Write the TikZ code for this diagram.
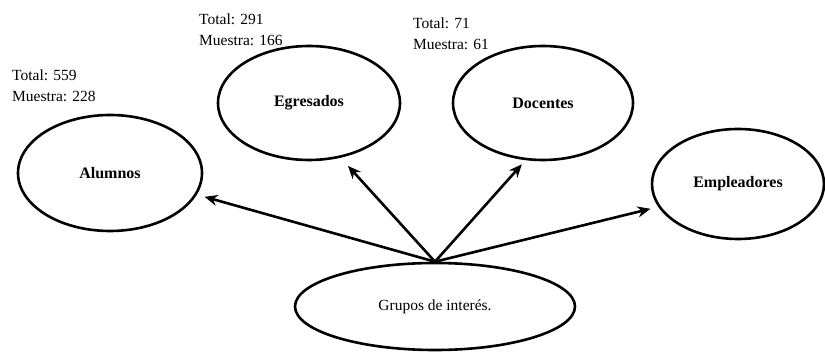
\documentclass[tikz,border=0pt]{standalone}
\usepackage{fontspec}
\setmainfont{Liberation Serif}
\usetikzlibrary{shapes.geometric,arrows.meta}
\begin{document}
\begin{tikzpicture}[x=1pt,y=-1pt,
  grp/.style={ellipse,draw,line width=2.6pt,inner sep=0pt,font=\fontsize{16}{19}\selectfont\bfseries},
  lbl/.style={anchor=base west,inner sep=0pt,font=\fontsize{15.5}{19}\selectfont},
  arr/.style={line width=2.6pt,-{Stealth[length=13pt,width=11pt]}}]
\useasboundingbox[fill=white] (0,0) rectangle (825,352);
\node[grp,minimum width=184pt,minimum height=116pt] (a) at (110,173) {Alumnos};
\node[grp,minimum width=182pt,minimum height=114pt] (e) at (309,103) {Egresados};
\node[grp,minimum width=180pt,minimum height=114pt] (d) at (543,103) {Docentes};
\node[grp,minimum width=172pt,minimum height=110pt] (m) at (738,184) {Empleadores};
\node[grp,font=\fontsize{15.5}{19}\selectfont,minimum width=280pt,minimum height=87pt] (g) at (435,306.5) {Grupos de interés.};
\node[lbl] (ta) at (12,81) {Total: 559};
\node[lbl] (ma) at (12,102) {Muestra: 228};
\node[lbl] (te) at (199,25) {Total: 291};
\node[lbl] (me) at (199,46) {Muestra: 166};
\node[lbl] (td) at (413,29) {Total: 71};
\node[lbl] (md) at (413,50) {Muestra: 61};
\draw[arr,shorten >=8pt] (g.north) -- (a.-14);
\draw[arr,shorten >=11pt] (g.north) -- (e.-60);
\draw[arr,shorten >=5.5pt] (g.north) -- (d.-107);
\draw[arr,shorten >=8pt] (g.north) -- (m.-164);
\end{tikzpicture}
\end{document}
